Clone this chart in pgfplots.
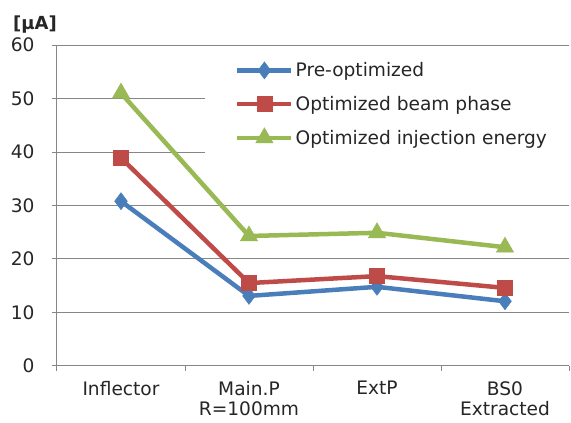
\documentclass[border=0pt]{standalone}
\usepackage{pgfplots}
\pgfplotsset{compat=1.18}
\usepackage{fontspec}
\setmainfont{DejaVu Sans}
\definecolor{cblue}{HTML}{4A7EBB}
\definecolor{cred}{HTML}{BE4B48}
\definecolor{cgreen}{HTML}{98B954}
\definecolor{cgrid}{HTML}{868686}
\begin{document}
\begin{tikzpicture}
\path[use as bounding box] (-57pt,-57pt) rectangle (514pt,366pt);
\begin{axis}[
  scale only axis,
  width=512pt, height=321pt,
  at={(0,0)}, anchor=south west,
  xmin=-0.5, xmax=3.5, ymin=0, ymax=60,
  axis x line=bottom, axis y line=left,
  axis line style={cgrid, line width=1pt, -},
  xtick={-0.5,0.5,1.5,2.5,3.5},
  x tick label as interval,
  xticklabels={Inflector,{Main.P\\R=100mm},ExtP,{BS0\\Extracted}},
  xticklabel style={align=center, font=\fontsize{18.6}{20}\selectfont, text=black!85, yshift=-9pt, inner ysep=1pt},
  ytick={0,10,...,60},
  yticklabel style={font=\fontsize{18.6}{20}\selectfont, text=black!85, xshift=-14pt},
  /pgf/number format/assume math mode=true,
  tick align=outside,
  major tick length=5pt,
  tick style={cgrid, line width=1pt},
  ymajorgrids,
  grid style={cgrid, line width=1pt},
  ylabel={[µA]},
  every axis y label/.style={at={(rel axis cs:0,1)}, anchor=center, xshift=-22pt, yshift=20pt, font=\fontsize{18}{20}\selectfont\bfseries, text=black!85},
  legend style={at={(rel axis cs:0.289,0.977)}, anchor=north west, draw=none, fill=white,
    font=\fontsize{18.6}{20}\selectfont, text=black!85, row sep=14pt, inner xsep=30pt, inner ysep=8pt},
  legend cell align=left,
  legend image code/.code={\draw[#1, mark repeat=2, mark phase=2] plot coordinates {(0pt,0pt) (27pt,0pt) (54pt,0pt)};},
]
\addplot[cblue, line width=4.5pt, mark=diamond*, mark size=8.5pt, mark options={solid, line width=0.5pt}]
  coordinates {(0,30.8) (1,13.1) (2,14.8) (3,12.1)};
\addlegendentry{Pre-optimized}
\addplot[cred, line width=4.5pt, mark=square*, mark size=7.5pt, mark options={solid, line width=0.5pt}]
  coordinates {(0,38.9) (1,15.5) (2,16.8) (3,14.6)};
\addlegendentry{Optimized beam phase}
\addplot[cgreen, line width=4.5pt, mark=triangle*, mark size=10pt, mark options={solid, line width=0.5pt}]
  coordinates {(0,51.0) (1,24.3) (2,24.9) (3,22.2)};
\addlegendentry{Optimized injection energy}
\end{axis}
\end{tikzpicture}
\end{document}
